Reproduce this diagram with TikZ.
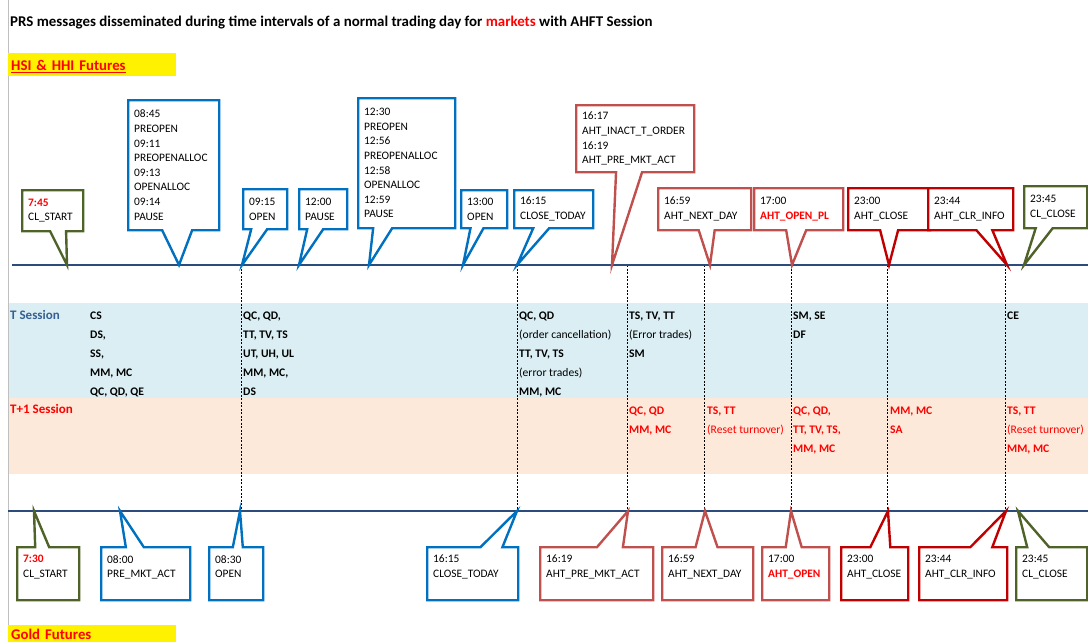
\documentclass[tikz,border=0pt]{standalone}
\usepackage{fontspec}
\setmainfont{Carlito}
\usepackage{xcolor}
\usetikzlibrary{shapes.callouts}

\definecolor{cblue}{RGB}{0,112,192}
\definecolor{cpink}{RGB}{192,80,77}
\definecolor{cdred}{RGB}{192,0,0}
\definecolor{colive}{RGB}{79,98,40}
\definecolor{tline}{RGB}{44,77,124}
\definecolor{tband}{RGB}{218,238,243}
\definecolor{pband}{RGB}{253,233,217}
\definecolor{lblue}{RGB}{54,96,146}
\hyphenpenalty=10000

\begin{document}
\begin{tikzpicture}[x=1pt,y=-1pt,
  box/.style={rectangle callout,draw=#1,fill=white,line width=2.4pt,anchor=north west,
    align=left,inner xsep=6pt,inner ysep=0pt,callout pointer width=16pt,
    font=\fontsize{11.4}{14.6}\selectfont},
  col/.style={anchor=north west,align=left,inner sep=0pt,font=\bfseries\fontsize{11.6}{19}\selectfont},
  lbl/.style={anchor=base west,inner sep=0pt,font=\bfseries\fontsize{13}{15}\selectfont},
  hilite/.style={fill=yellow,anchor=north west,minimum width=168,minimum height=23,
    text width=162,inner xsep=3pt,align=left,text=red,font=\bfseries\fontsize{14.8}{16}\selectfont},
  tl/.style={tline,line width=2.2pt},
  guide/.style={black,line width=0.8pt,dash pattern=on 2pt off 1.5pt}]
\useasboundingbox (0,0) rectangle (1088,641);

% background
\fill[tband] (8,303) rectangle (1088,398);
\fill[pband] (8,398) rectangle (1088,474);
\draw[gray!50,line width=0.8pt] (8,0) -- (8,641);

\node[anchor=base west,inner sep=0pt,font=\bfseries\fontsize{14.9}{16}\selectfont] (title) at (10,26)
  {PRS messages disseminated during time intervals of a normal trading day for \textcolor{red}{markets} with AHFT Session};
\node[hilite,text height=14pt,text depth=2pt] (hsi) at (8,53) {\underline{HSI \& HHI Futures}};
\node[hilite,minimum height=18] (gold) at (8,625) {Gold Futures};

% guide lines between the two time lines
\foreach \x [count=\i] in {241,517,627,704,791,887,1005} {
  \coordinate (up\i) at (\x,265);
  \coordinate (dn\i) at (\x,511);
  \draw[guide] (up\i) -- (dn\i);
}

% time lines
\coordinate (topL) at (12,265);
\coordinate (topR) at (1088,265);
\coordinate (botL) at (8,511);
\coordinate (botR) at (1088,511);
\draw[tl] (topL) -- (topR);
\draw[tl] (botL) -- (botR);

% sessions
\node[lbl,text=lblue] (tses) at (10,319) {T Session};
\node[lbl,text=red] (t1ses) at (10,413) {T+1 Session};

\node[col] (c1) at (90,311.5) {CS\\DS,\\SS,\\MM, MC\\QC, QD, QE};
\node[col] (c2) at (243,311.5) {QC, QD,\\TT, TV, TS\\UT, UH, UL\\MM, MC,\\DS};
\node[col] (c3) at (519,311.5) {QC, QD\\{\mdseries (order cancellation)}\\TT, TV, TS\\{\mdseries (error trades)}\\MM, MC};
\node[col] (c4) at (629,311.5) {TS, TV, TT\\{\mdseries (Error trades)}\\SM};
\node[col] (c5) at (793,311.5) {SM, SE\\DF};
\node[col] (c6) at (1007,311.5) {CE};

\node[col,text=red] (d1) at (629,406.5) {QC, QD\\MM, MC};
\node[col,text=red] (d2) at (707,406.5) {TS, TT\\{\mdseries (Reset turnover)}};
\node[col,text=red] (d3) at (793,406.5) {QC, QD,\\TT, TV, TS,\\MM, MC};
\node[col,text=red] (d4) at (890,406.5) {MM, MC\\SA};
\node[col,text=red] (d5) at (1007,406.5) {TS, TT\\{\mdseries (Reset turnover)}\\MM, MC};

% HSI & HHI
\coordinate (p0745) at (67,265);
\coordinate (p0845) at (179,265);
\coordinate (p0915) at (242,265);
\coordinate (p1200) at (299,265);
\coordinate (p1230) at (369,265);
\coordinate (p1300) at (463,265);
\coordinate (p1615) at (517,265);
\coordinate (p1617) at (612,265);
\coordinate (p1659) at (710,265);
\coordinate (p1700) at (792,265);
\coordinate (p2300) at (889,265);
\coordinate (p2344) at (1007,265);
\coordinate (p2345) at (1024,265);

\node[box=colive,minimum width=61,minimum height=41,text width=49,callout absolute pointer=(p0745)] (a0745) at (21,189)
  {\textcolor{red}{\bfseries 7:45}\\CL\_START};
\node[box=cblue,minimum width=91,minimum height=130,text width=79,callout pointer width=30pt,callout absolute pointer=(p0845)] (a0845) at (127,99)
  {08:45\\PREOPEN\\09:11\\PREOPENALLOC\\09:13\\OPENALLOC\\09:14\\PAUSE};
\node[box=cblue,minimum width=44,minimum height=40,text width=32,callout absolute pointer=(p0915)] (a0915) at (242,188)
  {09:15\\OPEN};
\node[box=cblue,minimum width=48,minimum height=40,text width=36,callout absolute pointer=(p1200)] (a1200) at (298,188)
  {12:00\\PAUSE};
\node[box=cblue,minimum width=97,minimum height=130,text width=85,callout pointer width=19pt,callout absolute pointer=(p1230)] (a1230) at (357,97)
  {12:30\\PREOPEN\\12:56\\PREOPENALLOC\\12:58\\OPENALLOC\\12:59\\PAUSE};
\node[box=cblue,minimum width=46,minimum height=38,text width=34,callout pointer width=13pt,callout absolute pointer=(p1300)] (a1300) at (460,189)
  {13:00\\OPEN};
\node[box=cblue,minimum width=79,minimum height=38,text width=67,callout absolute pointer=(p1615)] (a1615) at (513,189)
  {16:15\\CLOSE\_TODAY};
\node[box=cpink,minimum width=118,minimum height=67,text width=106,callout pointer width=26pt,callout absolute pointer=(p1617)] (a1617) at (575,104)
  {16:17\\AHT\_INACT\_T\_ORDER\\16:19\\AHT\_PRE\_MKT\_ACT};
\node[box=cpink,minimum width=93,minimum height=42,text width=81,callout absolute pointer=(p1659)] (a1659) at (657,187)
  {16:59\\AHT\_NEXT\_DAY};
\node[box=cpink,minimum width=89,minimum height=42,text width=77,callout pointer width=20pt,callout absolute pointer=(p1700)] (a1700) at (753,187)
  {17:00\\\textcolor{red}{\bfseries AHT\_OPEN\_PL}};
\node[box=cdred,minimum width=82,minimum height=42,text width=70,callout pointer width=18pt,callout absolute pointer=(p2300)] (a2300) at (847,187)
  {23:00\\AHT\_CLOSE};
\node[box=cdred,minimum width=85,minimum height=42,text width=73,callout absolute pointer=(p2344)] (a2344) at (927,187)
  {23:44\\AHT\_CLR\_INFO};
\node[box=colive,minimum width=63,minimum height=42,text width=51,callout pointer width=17pt,callout absolute pointer=(p2345)] (a2345) at (1023,185)
  {23:45\\CL\_CLOSE};

% Gold
\coordinate (q0730) at (34,511);
\coordinate (q0800) at (120,511);
\coordinate (q0830) at (240,511);
\coordinate (q1615) at (517,511);
\coordinate (q1619) at (628,511);
\coordinate (q1659) at (705,511);
\coordinate (q1700) at (791,511);
\coordinate (q2300) at (888,511);
\coordinate (q2344) at (1006,511);
\coordinate (q2345) at (1018,511);

\node[box=colive,minimum width=62,minimum height=53,text width=50,callout pointer width=14pt,callout absolute pointer=(q0730)] (b0730) at (16,546)
  {\textcolor{red}{\bfseries 7:30}\\CL\_START\\\mbox{}};
\node[box=cblue,minimum width=89,minimum height=53,text width=77,callout pointer width=18pt,callout absolute pointer=(q0800)] (b0800) at (100,546)
  {08:00\\PRE\_MKT\_ACT\\\mbox{}};
\node[box=cblue,minimum width=54,minimum height=53,text width=42,callout pointer width=10pt,callout absolute pointer=(q0830)] (b0830) at (208,546)
  {08:30\\OPEN\\\mbox{}};
\node[box=cblue,minimum width=91,minimum height=53,text width=79,callout pointer width=22pt,callout absolute pointer=(q1615)] (b1615) at (426,546)
  {16:15\\CLOSE\_TODAY\\\mbox{}};
\node[box=cpink,minimum width=113,minimum height=53,text width=101,callout pointer width=26pt,callout absolute pointer=(q1619)] (b1619) at (539,546)
  {16:19\\AHT\_PRE\_MKT\_ACT\\\mbox{}};
\node[box=cpink,minimum width=91,minimum height=53,text width=79,callout pointer width=22pt,callout absolute pointer=(q1659)] (b1659) at (661,546)
  {16:59\\AHT\_NEXT\_DAY\\\mbox{}};
\node[box=cpink,minimum width=67,minimum height=53,text width=55,callout absolute pointer=(q1700)] (b1700) at (761,546)
  {17:00\\\textcolor{red}{\bfseries AHT\_OPEN}\\\mbox{}};
\node[box=cdred,minimum width=67,minimum height=53,text width=55,callout pointer width=20pt,callout absolute pointer=(q2300)] (b2300) at (840,546)
  {23:00\\AHT\_CLOSE\\\mbox{}};
\node[box=cdred,minimum width=88,minimum height=53,text width=76,callout pointer width=22pt,callout absolute pointer=(q2344)] (b2344) at (918,546)
  {23:44\\AHT\_CLR\_INFO\\\mbox{}};
\node[box=colive,minimum width=71,minimum height=53,text width=59,callout pointer width=22pt,callout absolute pointer=(q2345)] (b2345) at (1015,546)
  {23:45\\CL\_CLOSE\\\mbox{}};
\end{tikzpicture}
\end{document}
